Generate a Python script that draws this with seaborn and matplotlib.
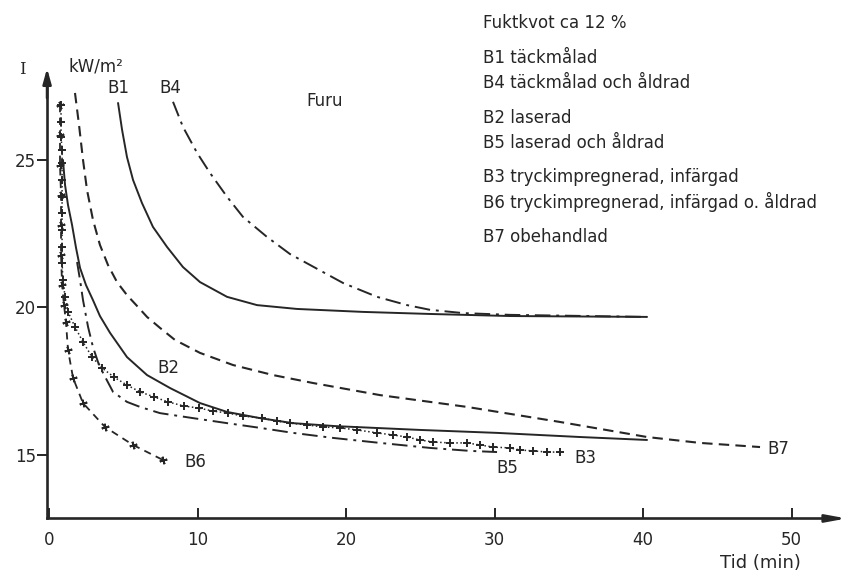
import matplotlib
matplotlib.use("Agg")
import matplotlib.pyplot as plt
import seaborn as sns
import pandas as pd

# ---------------- data ----------------
b1_x = [4.65, 4.92, 5.25, 5.66, 6.26, 7.0, 7.95, 9.02, 10.17, 11.99, 14.01, 16.7, 21.14, 25.66, 31.04, 40.27]
b1_y = [26.93, 26.02, 25.10, 24.32, 23.54, 22.73, 22.05, 21.37, 20.86, 20.36, 20.08, 19.95, 19.85, 19.78, 19.71, 19.68]

b4_x = [8.35, 9.02, 9.97, 10.84, 11.99, 13.06, 14.68, 16.23, 17.58, 19.8, 22.09, 24.11, 25.66, 27.88, 31.04, 40.27]
b4_y = [26.97, 26.12, 25.24, 24.56, 23.75, 23.07, 22.39, 21.81, 21.44, 20.83, 20.36, 20.08, 19.92, 19.81, 19.75, 19.68]

b7_x = [1.75, 2.02, 2.29, 2.56, 2.96, 3.43, 3.97, 4.58, 5.25, 5.93, 6.6, 7.47, 8.48, 10.17, 12.39, 15.08,
        17.78, 22.29, 28.15, 34.41, 40.27, 43.84, 47.88]
b7_y = [27.27, 26.19, 25.0, 23.98, 22.97, 22.12, 21.44, 20.86, 20.42, 20.05, 19.68, 19.31, 18.90, 18.46, 18.05,
        17.71, 17.44, 17.03, 16.63, 16.12, 15.61, 15.41, 15.27]

b2_x = [0.94, 1.08, 1.28, 1.55, 1.82, 2.09, 2.49, 2.96, 3.43, 4.11, 5.25, 6.6, 8.15, 10.17, 11.99,
        14.21, 16.43, 19.26, 24.98, 30.17, 35.76, 40.27]
b2_y = [25.0, 24.15, 23.47, 22.80, 22.02, 21.34, 20.76, 20.25, 19.71, 19.14, 18.32, 17.71, 17.27, 16.76, 16.46,
        16.25, 16.08, 15.98, 15.85, 15.75, 15.61, 15.51]

b5_x = [1.89, 2.09, 2.29, 2.63, 2.96, 3.3, 3.64, 4.31, 5.25, 6.13, 7.47, 9.7, 11.99, 14.21, 16.43,
        19.12, 22.29, 25.66, 28.35, 30.17]
b5_y = [21.54, 20.93, 20.25, 19.34, 18.66, 18.15, 17.78, 17.14, 16.80, 16.63, 16.42, 16.25, 16.08, 15.92, 15.75,
        15.58, 15.41, 15.24, 15.14, 15.10]

b3_x = [0.81, 0.81, 0.81, 0.88, 0.88, 0.88, 0.88, 0.88, 0.88, 0.88, 0.88, 0.94, 1.08, 1.28, 1.75, 2.29,
        2.90, 3.57, 4.38, 5.25, 6.13, 7.07, 8.01, 9.09, 10.10, 11.04, 12.05, 13.06, 14.34, 15.35, 16.23,
        17.37, 18.45, 19.6, 20.74, 22.09, 23.16, 24.11, 24.98, 25.86, 27.0, 28.15, 29.02, 29.9, 31.04,
        31.72, 32.59, 33.54, 34.41]
b3_y = [26.86, 26.29, 25.78, 25.34, 24.90, 24.32, 23.75, 23.20, 22.63, 22.05, 21.51, 20.93, 20.36, 19.85,
        19.34, 18.83, 18.32, 17.95, 17.64, 17.37, 17.14, 16.97, 16.80, 16.66, 16.59, 16.49, 16.42, 16.32,
        16.25, 16.15, 16.08, 16.02, 15.95, 15.92, 15.85, 15.75, 15.68, 15.61, 15.51, 15.44, 15.41, 15.41,
        15.34, 15.27, 15.24, 15.17, 15.14, 15.10, 15.10]

b6_x = [0.74, 0.74, 0.74, 0.81, 0.81, 0.81, 0.88, 1.01, 1.14, 1.28, 1.62, 2.29, 3.77, 5.66, 7.68]
b6_y = [26.86, 25.85, 24.83, 23.81, 22.80, 21.78, 20.76, 20.08, 19.51, 18.56, 17.61, 16.76, 15.95, 15.34, 14.83]

x_ticks = [0, 10, 20, 30, 40, 50]
y_ticks = [15, 20, 25]

legend_lines = ["Fuktkvot ca 12 %",
                "B1 täckmålad",
                "B4 täckmålad och åldrad",
                "B2 laserad",
                "B5 laserad och åldrad",
                "B3 tryckimpregnerad, infärgad",
                "B6 tryckimpregnerad, infärgad o. åldrad",
                "B7 obehandlad"]

# ---------------- figure ----------------
sns.set_style("white")
plt.rcParams['font.family'] = ['DejaVu Sans']

INK = "#262626"
W, H = 868, 576
fig = plt.figure(figsize=(W / 100, H / 100), dpi=100)
ax = fig.add_axes([0, 0, 1, 1])
ax.set_facecolor("white")

series = [
    ("B1", b1_x, b1_y, dict(linestyle="-", linewidth=1.4)),
    ("B4", b4_x, b4_y, dict(linestyle=(0, (8, 3, 1.5, 3)), linewidth=1.4)),
    ("B7", b7_x, b7_y, dict(linestyle=(0, (5, 3)), linewidth=1.5)),
    ("B2", b2_x, b2_y, dict(linestyle="-", linewidth=1.4)),
    ("B5", b5_x, b5_y, dict(linestyle=(0, (8, 3, 1.5, 3)), linewidth=1.4)),
    ("B3", b3_x, b3_y, dict(linestyle=":", linewidth=1.1, marker="+", markersize=5.5,
                            markeredgewidth=1.4, markeredgecolor=INK)),
    ("B6", b6_x, b6_y, dict(linestyle=(0, (4, 3)), linewidth=1.3, marker=(4, 2, 15),
                            markersize=5.5, markeredgewidth=1.4, markeredgecolor=INK)),
]

for name, xs, ys, style in series:
    df = pd.DataFrame({"t": xs, "I": ys})
    sns.lineplot(data=df, x="t", y="I", ax=ax, color=INK, sort=False, estimator=None,
                 legend=False, **style)

# axis frame mapped to the picture
ax.set_xlim(-3.30, 55.15)
ax.set_ylim(10.90, 30.42)
ax.set_xlabel("")
ax.set_ylabel("")

for s in ["top", "right"]:
    ax.spines[s].set_visible(False)
ax.spines["left"].set_position(("data", -0.13))
ax.spines["bottom"].set_position(("data", 12.85))
ax.spines["left"].set_bounds(12.85, 27.6)
ax.spines["bottom"].set_bounds(-0.13, 52.8)
for s in ["left", "bottom"]:
    ax.spines[s].set_color(INK)
    ax.spines[s].set_linewidth(1.9)

ax.set_xticks(x_ticks)
ax.set_yticks(y_ticks)
ax.set_xticklabels([str(v) for v in x_ticks])
ax.set_yticklabels([str(v) for v in y_ticks])
ax.tick_params(axis="x", bottom=True, direction="in", length=7, width=1.4, pad=9,
               labelsize=12, colors=INK)
ax.tick_params(axis="y", left=True, direction="out", length=7, width=1.4, pad=1,
               labelsize=12, colors=INK)

# arrow heads
ax.annotate("", xy=(-0.13, 28.2), xytext=(-0.13, 27.0),
            arrowprops=dict(arrowstyle="-|>,head_length=0.9,head_width=0.25", color=INK, lw=1.9))
ax.annotate("", xy=(53.9, 12.85), xytext=(52.5, 12.85),
            arrowprops=dict(arrowstyle="-|>,head_length=1.2,head_width=0.22", color=INK, lw=1.9))

# texts on the chart
txt = dict(color=INK, fontsize=12)
ax.text(-1.82, 28.05, "I", ha="center", va="center", family="DejaVu Serif", fontsize=12, color=INK)
ax.text(1.28, 28.15, "kW/m²", ha="left", va="center", **txt)
ax.text(4.65, 27.44, "B1", ha="center", va="center", **txt)
ax.text(8.15, 27.44, "B4", ha="center", va="center", **txt)
ax.text(18.59, 27.0, "Furu", ha="center", va="center", **txt)
ax.text(8.01, 17.95, "B2", ha="center", va="center", **txt)
ax.text(9.83, 14.76, "B6", ha="center", va="center", **txt)
ax.text(30.84, 14.56, "B5", ha="center", va="center", **txt)
ax.text(36.09, 14.90, "B3", ha="center", va="center", **txt)
ax.text(49.09, 15.20, "B7", ha="center", va="center", **txt)
ax.text(47.88, 11.34, "Tid (min)", ha="center", va="center", color=INK, fontsize=13)

legend_y = [23, 58, 83, 118, 143, 177, 202, 237]
for line, py in zip(legend_lines, legend_y):
    fig.text(483 / W, 1 - py / H, line, ha="left", va="center", color=INK, fontsize=12)

fig.savefig("out.png", dpi=100, facecolor="white")
